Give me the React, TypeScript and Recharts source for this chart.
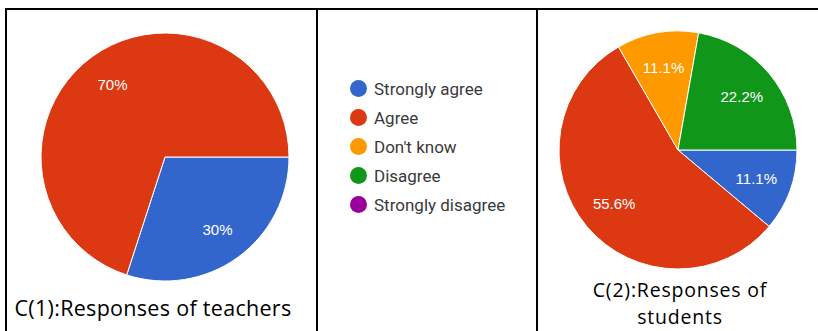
import { PieChart, Pie, Cell, Legend } from "recharts";

const categories = ["Strongly agree", "Agree", "Don't know", "Disagree", "Strongly disagree"];
const colors = ["#3366cc", "#dc3912", "#ff9900", "#109618", "#990099"];
const teacherCounts = [3, 7, 0, 0, 0];
const studentCounts = [1, 5, 1, 2, 0];
const captions = ["C(1):Responses of teachers", "C(2):Responses of", "students"];

const RAD = Math.PI / 180;

function toRows(counts: number[]) {
  return categories
    .map((name, i) => ({ name, value: counts[i], color: colors[i] }))
    .filter((d) => d.value > 0);
}

function fmt(p: number) {
  return `${Math.round(p * 1000) / 10}%`;
}

const makeLabel = (factor: number) => (props: any) => {
  const { cx, cy, midAngle, outerRadius, percent } = props;
  const r = outerRadius * factor;
  const x = cx + r * Math.cos(-midAngle * RAD);
  const y = cy + r * Math.sin(-midAngle * RAD);
  return (
    <text
      x={x}
      y={y}
      fill="#ffffff"
      textAnchor="middle"
      dominantBaseline="central"
      fontFamily="'Liberation Sans', Arial, sans-serif"
      fontSize={15}
    >
      {fmt(percent)}
    </text>
  );
};

const LegendBox = () => (
  <div style={{ fontFamily: "Roboto, 'Liberation Sans', sans-serif", fontSize: 17, color: "#3a3a3a" }}>
    {categories.map((c, i) => (
      <div key={c} style={{ display: "flex", alignItems: "center", height: 29 }}>
        <span
          style={{
            width: 17,
            height: 17,
            borderRadius: "50%",
            background: colors[i],
            display: "inline-block",
            marginRight: 7,
          }}
        />
        <span>{c}</span>
      </div>
    ))}
  </div>
);

const line = (s: React.CSSProperties) => (
  <div style={{ position: "absolute", background: "#000", ...s }} />
);

const captionStyle: React.CSSProperties = {
  position: "absolute",
  textAlign: "center",
  fontFamily: "'Open Sans', 'Noto Sans', sans-serif",
  fontSize: 21.5,
  letterSpacing: 0.3,
  lineHeight: "30px",
  color: "#000",
  whiteSpace: "nowrap",
};

export default function App() {
  const teachers = toRows(teacherCounts);
  const students = toRows(studentCounts);
  return (
    <div style={{ position: "absolute", left: 0, top: 0, width: 818, height: 331, background: "#fff", overflow: "hidden" }}>
      <PieChart width={818} height={331} margin={{ top: 0, right: 0, bottom: 0, left: 0 }}>
        <Pie
          data={teachers}
          dataKey="value"
          nameKey="name"
          cx={165}
          cy={157}
          outerRadius={124}
          startAngle={0}
          endAngle={-360}
          stroke="#ffffff"
          strokeWidth={1}
          label={makeLabel(0.72)}
          labelLine={false}
          isAnimationActive={false}
        >
          {teachers.map((d) => (
            <Cell key={d.name} fill={d.color} />
          ))}
        </Pie>
        <Pie
          data={students}
          dataKey="value"
          nameKey="name"
          cx={678}
          cy={150}
          outerRadius={119}
          startAngle={0}
          endAngle={-360}
          stroke="#ffffff"
          strokeWidth={1}
          label={makeLabel(0.7)}
          labelLine={false}
          isAnimationActive={false}
        >
          {students.map((d) => (
            <Cell key={d.name} fill={d.color} />
          ))}
        </Pie>
        <Legend
          content={<LegendBox />}
          wrapperStyle={{ position: "absolute", left: 350, top: 74, width: 190, bottom: "auto", right: "auto" }}
        />
      </PieChart>
      {line({ left: 5, top: 8, width: 813, height: 2 })}
      {line({ left: 5, top: 8, width: 2, height: 323 })}
      {line({ left: 316, top: 8, width: 2, height: 323 })}
      {line({ left: 536, top: 8, width: 2, height: 323 })}
      <div style={{ ...captionStyle, left: 7, top: 293, width: 292 }}>{captions[0]}</div>
      <div
        style={{
          ...captionStyle,
          left: 538,
          top: 277,
          width: 284,
          fontSize: 19.5,
          letterSpacing: 0.8,
          lineHeight: "26.5px",
        }}
      >
        {captions[1]}
        <br />
        {captions[2]}
      </div>
    </div>
  );
}
